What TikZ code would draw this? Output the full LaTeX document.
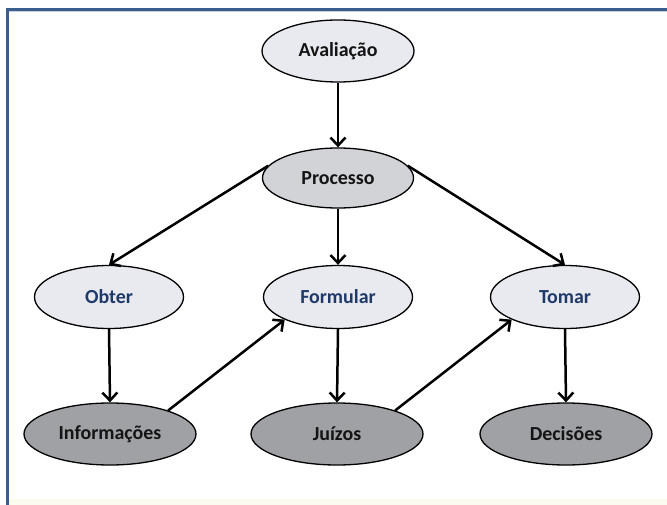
\documentclass[tikz,border=0pt]{standalone}
\usepackage{fontspec}
\setmainfont{Carlito}[BoldFont={Carlito Bold}]
\usetikzlibrary{shapes.geometric,arrows.meta}
\definecolor{framebl}{HTML}{3A5F8F}
\definecolor{frameln}{HTML}{C9CED8}
\definecolor{footbg}{HTML}{FBFCEF}
\definecolor{lightfill}{HTML}{E9EAEF}
\definecolor{midfill}{HTML}{D2D3D7}
\definecolor{darkfill}{HTML}{A0A1A5}
\definecolor{navytext}{HTML}{1F3A68}
\definecolor{inktext}{HTML}{141414}
\tikzset{
  oval/.style={ellipse, draw=black, line width=1.3bp, inner sep=0pt,
    font=\fontsize{20}{24}\selectfont\bfseries, text=inktext},
  topoval/.style={oval, fill=lightfill, minimum width=152bp, minimum height=62bp},
  procoval/.style={oval, fill=midfill, minimum width=151bp, minimum height=60bp},
  actoval/.style={oval, fill=lightfill, text=navytext, minimum width=149bp, minimum height=63bp},
  resoval/.style={oval, fill=darkfill, minimum width=172bp, minimum height=62bp},
  link/.style={line width=2.5bp, draw=black,
    -{Straight Barb[length=8bp,width=15bp,line width=2.5bp]}}
}
\begin{document}
\begin{tikzpicture}[x=1bp,y=-1bp]
  \useasboundingbox (0,0) rectangle (667,505);
  % page frame
  \fill[white] (0,0) rectangle (667,505);
  \fill[footbg] (9,499) rectangle (667,505);
  \fill[frameln] (9,11) rectangle (667,12.5);
  \fill[framebl] (6,8) rectangle (667,11);
  \fill[framebl] (6,8) rectangle (8.6,505);

  % nodes
  \node[topoval]  (aval) at (338,51)  {Avaliação};
  \node[procoval] (proc) at (338,178) {Processo};
  \node[actoval]  (obt)  at (109,297) {Obter};
  \node[actoval]  (form) at (338,297) {Formular};
  \node[actoval]  (tom)  at (565,297) {Tomar};
  \node[resoval]  (info) at (110,434) {Informações};
  \node[resoval]  (juiz) at (337,434) {Juízos};
  \node[resoval]  (dec)  at (566,434) {Decisões};

  % connectors
  \draw[link] (aval.south) -- (proc.north);
  \draw[link] (proc.170) -- (obt.north);
  \draw[link] (proc.south) -- (form.north);
  \draw[link] (proc.10) -- (tom.north);
  \draw[link] (obt.south) -- (info.north);
  \draw[link] (form.south) -- (juiz.north);
  \draw[link] (tom.south) -- (dec.north);
  \draw[link] (info.22) -- (form.203);
  \draw[link] (juiz.22) -- (tom.203);
\end{tikzpicture}
\end{document}
